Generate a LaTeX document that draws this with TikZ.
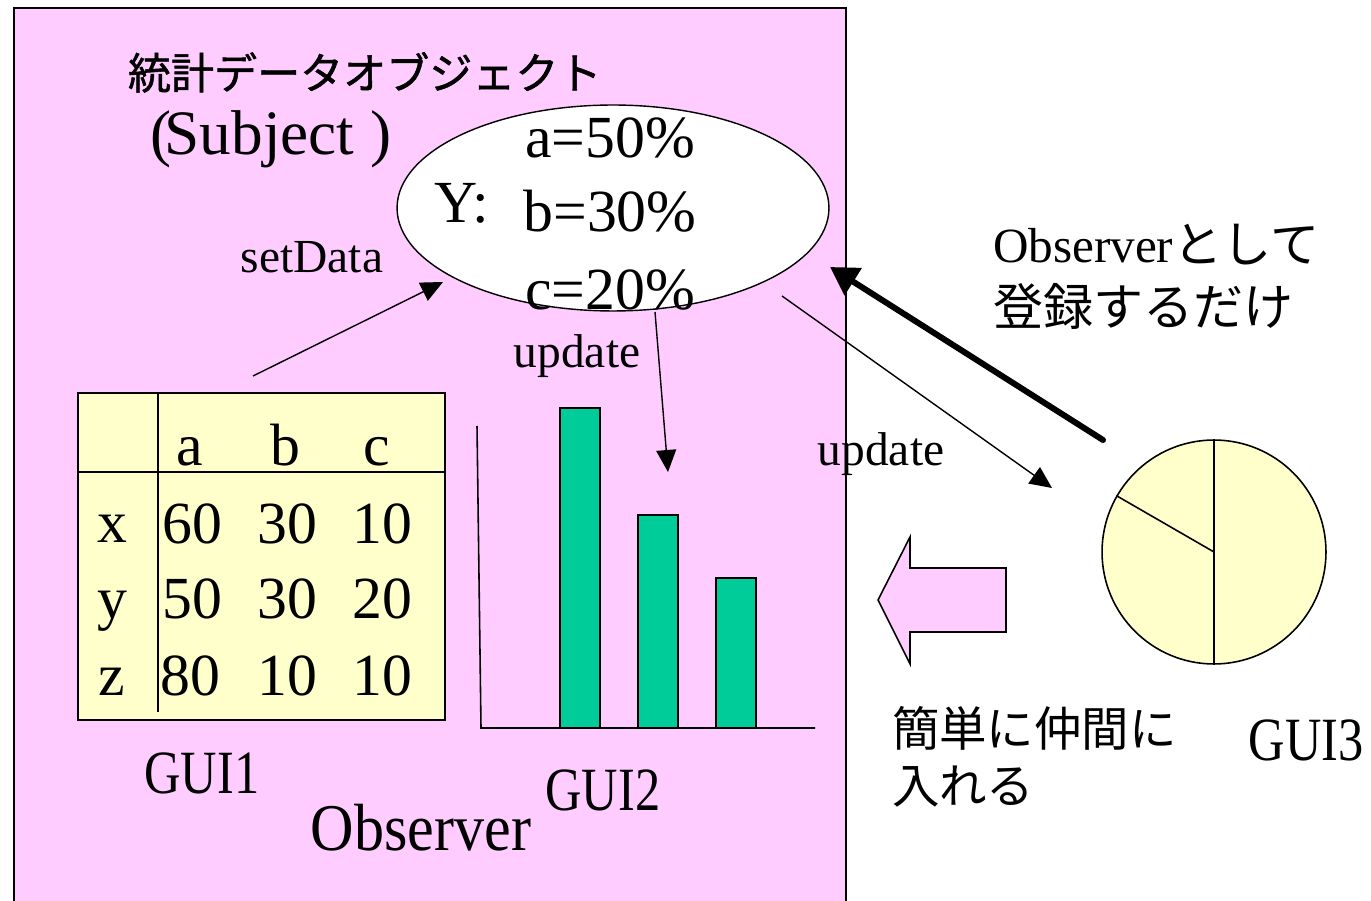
\documentclass[tikz,border=0pt]{standalone}
\usepackage{fontspec}
\setmainfont{Liberation Serif}
\newfontfamily\jp{Noto Sans CJK JP}
\newfontfamily\jpb[FakeBold=1.2]{Noto Sans CJK JP}
\usetikzlibrary{arrows.meta,shapes.geometric}
\definecolor{pinkbg}{HTML}{FFCCFF}
\definecolor{paleyellow}{HTML}{FFFFCC}
\definecolor{bargreen}{HTML}{00CC99}
\newcommand{\fsz}[1]{\fontsize{#1}{#1}\selectfont}
\tikzset{
  txt/.style={inner sep=0pt, outer sep=0pt, anchor=base},
  txtw/.style={inner sep=0pt, outer sep=0pt, anchor=base west},
  thinarrow/.style={line width=0.8pt, -{Triangle[length=0.44cm,width=0.40cm]}},
  thickarrow/.style={line width=3.4pt, line cap=round, -{Triangle[length=0.55cm,width=0.62cm]}},
  bar/.style={fill=bargreen, draw=black, line width=1.2pt},
  axis/.style={line width=0.9pt}
}
\begin{document}
\begin{tikzpicture}[x=0.02cm, y=-0.02cm]
\useasboundingbox (0,0) rectangle (1371,901);
\fill[white] (0,0) rectangle (1371,901);
% subject/observer frame
\draw[fill=pinkbg, line width=1.2pt] (14,8) rectangle (846,930);

% title
\node[txtw] (title) at (128,89) {\jpb\fsz{24.5pt}統計データオブジェクト};
\node[txtw] (subjlbl) at (150,155) {\fsz{36pt}(\kern-0.1em Subject )};

% subject ellipse
\node[ellipse, draw, fill=white, line width=0.8pt, inner sep=0pt,
      minimum width=8.64cm, minimum height=4.12cm] (subj) at (613,208) {};
\node[txt] (va) at (610,158) {\fsz{34pt}a=50\%};
\node[txt] (vy) at (462,223) {\fsz{34pt}Y:};
\node[txt] (vb) at (610,232) {\fsz{34pt}b=30\%};
\node[txt] (vc) at (610,310) {\fsz{34pt}c=20\%};

% labels
\node[txt] (setdata) at (312,273) {\fsz{27pt}setData};
\node[txt] (upd1) at (577,368) {\fsz{27pt}update};
\node[txt] (upd2) at (881,465) {\fsz{27pt}update};

% GUI1 table
\node[draw, fill=paleyellow, line width=1.2pt, inner sep=0pt,
      minimum width=7.34cm, minimum height=6.54cm] (gui1) at (261.5,556.5) {};
\draw[line width=1.2pt] (78,472) -- (445,472);
\draw[line width=1.2pt] (158,393) -- (158,712);
\node[txt] (ha) at (190,466) {\fsz{34pt}a};
\node[txt] (hb) at (285,466) {\fsz{34pt}b};
\node[txt] (hc) at (377,466) {\fsz{34pt}c};
\node[txt] (rx) at (112,542) {\fsz{34pt}x};
\node[txt] (ry) at (112,618) {\fsz{34pt}y};
\node[txt] (rz) at (112,695) {\fsz{34pt}z};
\node[txt] (x1) at (192,543) {\fsz{34pt}60};
\node[txt] (x2) at (287,543) {\fsz{34pt}30};
\node[txt] (x3) at (382,543) {\fsz{34pt}10};
\node[txt] (y1) at (192,618) {\fsz{34pt}50};
\node[txt] (y2) at (287,618) {\fsz{34pt}30};
\node[txt] (y3) at (382,618) {\fsz{34pt}20};
\node[txt] (z1) at (190,695) {\fsz{34pt}80};
\node[txt] (z2) at (287,695) {\fsz{34pt}10};
\node[txt] (z3) at (382,695) {\fsz{34pt}10};

% GUI2 bar chart
\coordinate (gui2) at (646,577);
\draw[axis] (477,426) -- (481,728) -- (815,728);
\draw[bar] (560,408) rectangle (600,728);
\draw[bar] (638,515) rectangle (678,728);
\draw[bar] (716,578) rectangle (756,728);

% GUI3 pie
\node[circle, draw, fill=paleyellow, line width=0.9pt, inner sep=0pt,
      minimum size=4.48cm] (gui3) at (1214,552) {};
\draw[line width=0.9pt] (gui3.north) -- (gui3.south);
\draw[line width=0.9pt] (gui3.center) -- (gui3.150);

% bottom labels
\node[txt] (g1lbl) at (202,793) {\fsz{35pt}\scalebox{0.82}[1]{GUI1}};
\node[txt] (g2lbl) at (603,810) {\fsz{35pt}\scalebox{0.82}[1]{GUI2}};
\node[txt] (g3lbl) at (1306,760) {\fsz{35pt}\scalebox{0.82}[1]{GUI3}};
\node[txt] (obslbl) at (421,850) {\fsz{38pt}\scalebox{0.9}[1]{Observer}};

% right-side texts
\node[txtw] (reg1) at (993,263) {\fsz{28pt}Observer\jp として};
\node[txtw] (reg2) at (993,326) {\jp\fsz{28.5pt}登録するだけ};
\node[txtw] (join1) at (892,746) {\jp\fsz{27pt}簡単に仲間に};
\node[txtw] (join2) at (892,803) {\jp\fsz{27pt}入れる};

% big left arrow
\draw[fill=pinkbg, line width=0.9pt] (878,600) -- (910,537) -- (910,568) -- (1006,568)
  -- (1006,632) -- (910,632) -- (910,664) -- cycle;

% connectors
\coordinate (sdA) at (253,376);
\coordinate (sdB) at (443,282);
\draw[thinarrow] (sdA) -- (sdB);
\coordinate (u1A) at (655,312);
\coordinate (u1B) at (668,472);
\draw[thinarrow] (u1A) -- (u1B);
\coordinate (u2A) at (782,296);
\coordinate (u2B) at (1052,488);
\draw[thinarrow] (u2A) -- (u2B);
\coordinate (rgA) at (1103,440);
\coordinate (rgB) at (830,267);
\draw[thickarrow] (rgA) -- (rgB);
\end{tikzpicture}
\end{document}
